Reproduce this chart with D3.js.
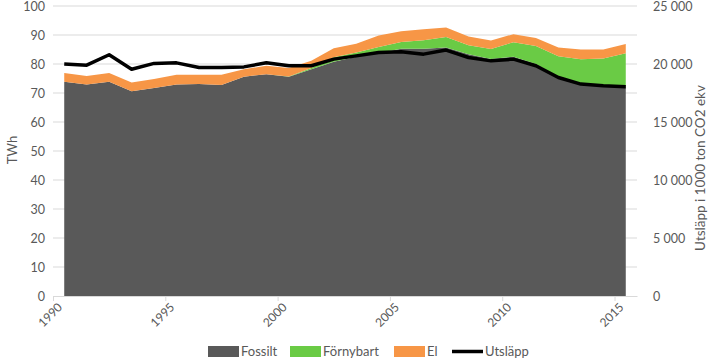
<!DOCTYPE html>
<html><head><meta charset="utf-8">
<script src="https://cdn.jsdelivr.net/npm/d3@7"></script>
<style>body{margin:0;background:#fff}svg{display:block}text{font-family:Lato,"Open Sans",sans-serif;fill:#595959}</style>
</head><body>
<svg id="c" width="710" height="361"></svg>
<script>
const years = d3.range(1990, 2016);
const fossilt = [73.9,72.9,73.9,70.6,71.7,72.9,73.1,72.8,75.6,76.5,75.6,78.2,80.8,82.5,83.8,85.3,85.3,85.7,83.4,81.7,82.5,80.0,75.6,73.4,72.7,72.1];
const fornybart = [0,0,0,0,0,0,0,0,0,0,0.1,0.4,1.5,1.5,2.1,2.3,2.9,3.6,3.1,3.5,5.0,6.2,7.1,8.2,9.2,11.6];
const el = [3.0,3.0,3.0,3.0,3.1,3.4,3.2,3.5,2.6,2.9,2.9,2.5,3.1,3.0,3.9,3.7,3.8,3.3,3.0,2.9,2.8,2.8,3.0,3.4,3.1,3.2];
const utslapp = [20000,19900,20800,19550,20050,20100,19700,19700,19750,20100,19850,19850,20420,20700,20990,21050,20850,21200,20560,20270,20420,19850,18840,18270,18130,18040];
const leftTicks = [0,10,20,30,40,50,60,70,80,90,100];
const rightTicks = [0,5000,10000,15000,20000,25000];
const rightTickLabels = ["0","5 000","10 000","15 000","20 000","25 000"];
const xTicks = [1990,1995,2000,2005,2010,2015];
const seriesNames = ["Fossilt","Förnybart","El"];
const colors = ["#595959","#6acb45","#f79646"];

const svg = d3.select("#c");
const x = d3.scaleLinear().domain([1990, 2016]).range([53, 637]);
const yL = d3.scaleLinear().domain([0, 100]).range([296, 6]);
const yR = d3.scaleLinear().domain([0, 25000]).range([296, 6]);

// gridlines
svg.append("g").selectAll("line").data(leftTicks.slice(1)).join("line")
  .attr("x1", 53).attr("x2", 637).attr("y1", d => yL(d)).attr("y2", d => yL(d))
  .attr("stroke", "#d9d9d9").attr("stroke-width", 1);

// stacked areas
const table = years.map((yr, i) => ({year: yr, Fossilt: fossilt[i], "Förnybart": fornybart[i], El: el[i]}));
const stack = d3.stack().keys(seriesNames)(table);
const area = d3.area().x(d => x(d.data.year + 0.5)).y0(d => yL(d[0])).y1(d => yL(d[1]));
svg.append("g").selectAll("path").data(stack).join("path")
  .attr("d", area).attr("fill", (d, i) => colors[i]);

// line
const line = d3.line().x((d, i) => x(years[i] + 0.5)).y(d => yR(d));
svg.append("path").datum(utslapp).attr("d", line).attr("fill", "none")
  .attr("stroke", "#000").attr("stroke-width", 3.5).attr("stroke-linejoin", "round");

// x axis
const xa = svg.append("g").attr("transform", "translate(0,296)")
  .call(d3.axisBottom(x).tickValues(xTicks).tickFormat("").tickSize(5).tickSizeOuter(0));
xa.select(".domain").attr("stroke", "#d9d9d9");
xa.selectAll(".tick line").attr("stroke", "#d9d9d9");
const xl = svg.append("g").selectAll("g").data(xTicks).join("g")
  .attr("transform", d => `translate(${x(d) + 7},305)`);
xl.append("g").attr("transform", "rotate(-45)")
  .append("text").attr("text-anchor", "end").attr("font-size", 12)
  .attr("dy", "0.35em").text(d => d);

// left axis
const la = svg.append("g").attr("transform", "translate(53,0)")
  .call(d3.axisLeft(yL).tickValues(leftTicks).tickSize(0).tickPadding(8));
la.select(".domain").remove();
la.selectAll("text").attr("font-size", 12.5).attr("fill", "#595959");

// right axis
const ra = svg.append("g").attr("transform", "translate(637,0)")
  .call(d3.axisRight(yR).tickValues(rightTicks).tickSize(0).tickPadding(16)
    .tickFormat((d, i) => rightTickLabels[i]));
ra.select(".domain").remove();
ra.selectAll("text").attr("font-size", 12.5).attr("fill", "#595959");

// axis titles
svg.append("text").attr("transform", "translate(17,150) rotate(-90)").attr("text-anchor", "middle")
  .attr("font-size", 13).text("TWh");
svg.append("text").attr("transform", "translate(705,168) rotate(-90)").attr("text-anchor", "middle")
  .attr("font-size", 13.5).text("Utsläpp i 1000 ton  CO2 ekv");

// legend
const leg = [{n:"Fossilt",c:colors[0],x:208},{n:"Förnybart",c:colors[1],x:290},{n:"El",c:colors[2],x:394}];
const lg = svg.append("g");
leg.forEach(d => {
  lg.append("rect").attr("x", d.x).attr("y", 346).attr("width", 31).attr("height", 11).attr("fill", d.c);
  lg.append("text").attr("x", d.x + 33).attr("y", 356).attr("font-size", 13).text(d.n);
});
lg.append("line").attr("x1", 452).attr("x2", 483).attr("y1", 351.5).attr("y2", 351.5).attr("stroke", "#000").attr("stroke-width", 3.5);
lg.append("text").attr("x", 485).attr("y", 356).attr("font-size", 13).text("Utsläpp");
</script>
</body></html>
